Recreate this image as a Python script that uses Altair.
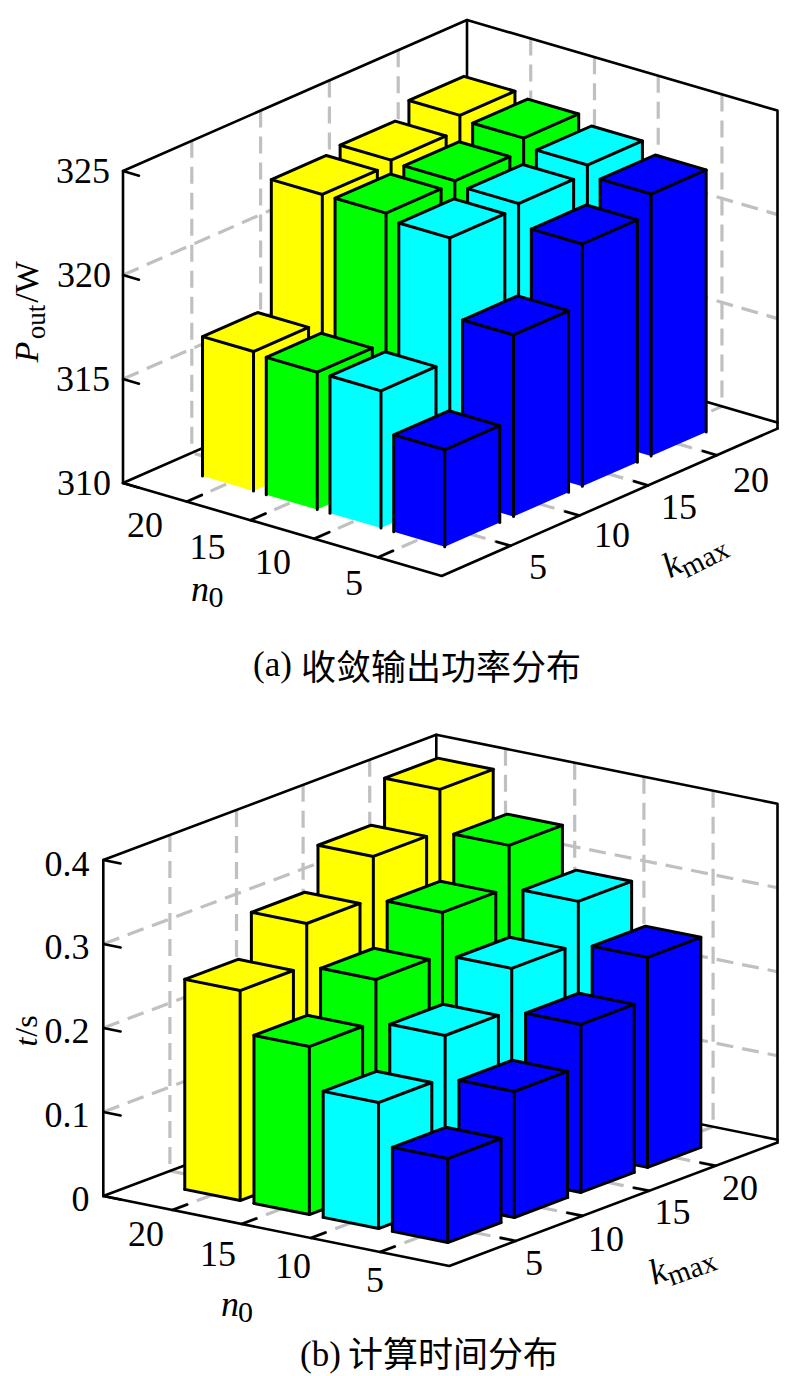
import altair as alt
import pandas as pd

# ---- data ----
n_values = [5, 10, 15, 20]
k_values = [5, 10, 15, 20]
row_colors = {5: "#0000ff", 10: "#00ffff", 15: "#00ff00", 20: "#ffff00"}

power_n5 = [314.66, 318.73, 321.65, 322.6]
power_n10 = [316.6, 322.5, 322.7, 323.1]
power_n15 = [316.6, 322.8, 322.9, 323.5]
power_n20 = [316.7, 322.8, 323.0, 323.7]

time_n5 = [0.10, 0.15, 0.20, 0.25]
time_n10 = [0.15, 0.20, 0.25, 0.30]
time_n15 = [0.20, 0.25, 0.30, 0.35]
time_n20 = [0.25, 0.30, 0.35, 0.40]

power_ticks = [310, 315, 320, 325]
time_ticks = [0, 0.1, 0.2, 0.3, 0.4]

# ---- the two 3-D axes boxes (orthographic), in page pixels ----
PANELS = [
    dict(F=(441.7, 576.0), L=(123.0, 483.0), R=(785.7, 425.0), z0=310, pxz=20.8,
         vals={5: power_n5, 10: power_n10, 15: power_n15, 20: power_n20},
         zt=power_ticks, bottom=False),
    dict(F=(449.3, 1266.0), L=(103.3, 1196.0), R=(782.3, 1140.7), z0=0, pxz=840.0,
         vals={5: time_n5, 10: time_n10, 15: time_n15, 20: time_n20},
         zt=time_ticks, bottom=True),
]

HALF = 0.4
INK = "#000000"
GRID = "#c0c0c0"
SW_BAR = 3.0
SW_BOX = 2.6
RIGHT_LIMIT = 777.5   # the page's right margin starts here; the box's right edge is drawn at it

grid_rows, shape_rows = [], []
counter = {"id": 0}


def add(rows, pts, fill="none", stroke=INK, sw=SW_BAR):
    counter["id"] += 1
    for s, (x, y) in enumerate(pts):
        rows.append(dict(id=counter["id"], seq=s, x=x, y=y, fill=fill, stroke=stroke, sw=sw))


def cut(p0, p1):
    """Shorten segment p0->p1 so that it ends on the right limit."""
    if p1[0] <= RIGHT_LIMIT:
        return p1
    t = (RIGHT_LIMIT - p0[0]) / (p1[0] - p0[0])
    return (RIGHT_LIMIT, p0[1] + t * (p1[1] - p0[1]))


for p in PANELS:
    F, L, R = p["F"], p["L"], p["R"]
    a = ((L[0] - F[0]) / 5, (L[1] - F[1]) / 5)
    b = ((R[0] - F[0]) / 5, (R[1] - F[1]) / 5)

    def P(u, v, z=None, p=p, a=a, b=b, F=F):
        z = p["z0"] if z is None else z
        return (F[0] + u * a[0] + v * b[0],
                F[1] + u * a[1] + v * b[1] - (z - p["z0"]) * p["pxz"])

    ztop = p["zt"][-1]
    # dashed grid on floor and walls
    for i in range(1, 5):
        add(grid_rows, [P(i, 5, ztop), P(i, 5)])     # right wall verticals
        add(grid_rows, [P(5, i, ztop), P(5, i)])     # left wall verticals
        add(grid_rows, [P(i, 0), cut(P(i, 0), P(i, 5))])  # floor
        add(grid_rows, [P(0, i), P(5, i)])           # floor
    for z in p["zt"][1:-1]:
        add(grid_rows, [P(5, 0, z), P(5, 5, z)])
        add(grid_rows, [P(5, 5, z), cut(P(5, 5, z), P(0, 5, z))])

    # box
    btop, bflr = P(5, 5, ztop), P(5, 5)
    rtop = cut(btop, P(0, 5, ztop))
    rflr_back = cut(bflr, P(0, 5))
    rflr_front = cut(P(0, 0), P(0, 5))
    add(shape_rows, [P(5, 0), P(5, 0, ztop), btop, rtop, rflr_front], sw=SW_BOX)
    add(shape_rows, [btop, bflr], sw=SW_BOX)
    add(shape_rows, [P(5, 0), bflr, rflr_back], sw=SW_BOX)
    add(shape_rows, [P(5, 0), P(0, 0), rflr_front], sw=SW_BOX)
    # ticks
    for z in p["zt"]:
        add(shape_rows, [P(5, 0, z), P(4.75, 0, z)], sw=SW_BOX)
    for i in range(1, 5):
        add(shape_rows, [P(i, 0), P(i, 0.22)], sw=SW_BOX)
        add(shape_rows, [P(0, i), P(0.22, i)], sw=SW_BOX)

    # bars, back to front
    for n in reversed(n_values):
        u = n_values.index(n) + 1
        for k in reversed(k_values):
            v = k_values.index(k) + 1
            val = p["vals"][n][k_values.index(k)]
            col = row_colors[n]
            fb = P(u - HALF, v - HALF); ft = P(u - HALF, v - HALF, val)
            lb = P(u + HALF, v - HALF); lt = P(u + HALF, v - HALF, val)
            rb = P(u - HALF, v + HALF); rt = P(u - HALF, v + HALF, val)
            bt = P(u + HALF, v + HALF, val)
            add(shape_rows, [lb, lt, ft, fb, lb], fill=col, stroke="transparent", sw=0)
            add(shape_rows, [fb, ft, rt, rb, fb], fill=col, stroke="transparent", sw=0)
            add(shape_rows, [lt, ft, rt, bt, lt], fill=col)
            add(shape_rows, [lb, lt])
            add(shape_rows, [fb, ft])
            add(shape_rows, [rb, rt])
            if p["bottom"]:
                add(shape_rows, [lb, fb, rb])

X = alt.X("x:Q", axis=None, scale=alt.Scale(domain=[8, 779], range=[0, 771], nice=False, zero=False))
Y = alt.Y("y:Q", axis=None, scale=alt.Scale(domain=[8, 1376], range=[0, 1368], nice=False, zero=False))

grid = alt.Chart(pd.DataFrame(grid_rows)).mark_line(
    stroke=GRID, strokeWidth=3.2, strokeDash=[17, 9], clip=True
).encode(x=X, y=Y, detail="id:N", order="seq:Q")

shapes = alt.Chart(pd.DataFrame(shape_rows)).mark_line(
    strokeJoin="round", strokeCap="round", clip=True
).encode(
    x=X, y=Y, detail="id:N", order="seq:Q",
    fill=alt.Fill("fill:N", scale=None),
    stroke=alt.Stroke("stroke:N", scale=None),
    strokeWidth=alt.StrokeWidth("sw:Q", scale=None),
)

SERIF = "Liberation Serif"
CJK = "Noto Sans CJK SC"

plain_labels = [
    ("325", 83, 172), ("320", 84, 276), ("315", 83, 380), ("310", 84, 484),
    ("20", 145, 526), ("15", 207.5, 547.5), ("10", 273, 563), ("5", 354, 584),
    ("5", 538, 567.5), ("10", 612, 536), ("15", 679, 508), ("20", 751, 481),
    ("0.4", 67, 865), ("0.3", 67, 948), ("0.2", 67, 1032), ("0.1", 67, 1116), ("0", 80.5, 1199.5),
    ("20", 146, 1234.5), ("15", 218, 1254.5), ("10", 293, 1267), ("5", 375, 1280.5),
    ("5", 534, 1263.5), ("10", 606, 1239.5), ("15", 672.5, 1212.5), ("20", 740, 1189),
]


def text_layer(items, font=SERIF, size=36, style="normal", angle=0, align="center", baseline="middle"):
    df = pd.DataFrame(items, columns=["label", "x", "y"])
    return alt.Chart(df).mark_text(
        font=font, fontSize=size, fontStyle=style, angle=angle,
        align=align, baseline=baseline, color="#000000",
    ).encode(x=X, y=Y, text="label:N")


texts = [
    text_layer(plain_labels),
    # subscripted axis names
    text_layer([("n", 200, 590), ("n", 230, 1305)], style="italic"),
    text_layer([("0", 216, 598), ("0", 245.5, 1313)], size=30),
    text_layer([("k", 672, 565)], style="italic", angle=333),
    text_layer([("max", 705, 559)], size=29, angle=333),
    text_layer([("k", 658, 1272)], style="italic", angle=340),
    text_layer([("max", 692, 1269)], size=29, angle=340),
    # vertical axis names
    text_layer([("P", 38, 352)], size=34, style="italic", angle=270, baseline="alphabetic"),
    text_layer([("out", 45, 322)], size=27, angle=270, baseline="alphabetic"),
    text_layer([("/W", 38, 282)], size=34, angle=270, baseline="alphabetic"),
    text_layer([("t", 36.5, 1042)], size=32, style="italic", angle=270, baseline="alphabetic"),
    text_layer([("/s", 36.5, 1026)], size=32, angle=270, baseline="alphabetic"),
    # captions
    text_layer([("(a)", 253, 676), ("(b)", 300, 1366)], size=35, align="left", baseline="alphabetic"),
    text_layer([("收敛输出功率分布", 301, 669), ("计算时间分布", 348, 1356)], font=CJK, size=35, align="left"),
]

chart = alt.layer(grid, shapes, *texts).properties(
    width=771, height=1368, padding=0,
    autosize=alt.AutoSizeParams(type="none"),
    background="#ffffff",
).configure_view(stroke=None)

chart.save("out.html", embed_options={"renderer": "svg", "actions": False})
